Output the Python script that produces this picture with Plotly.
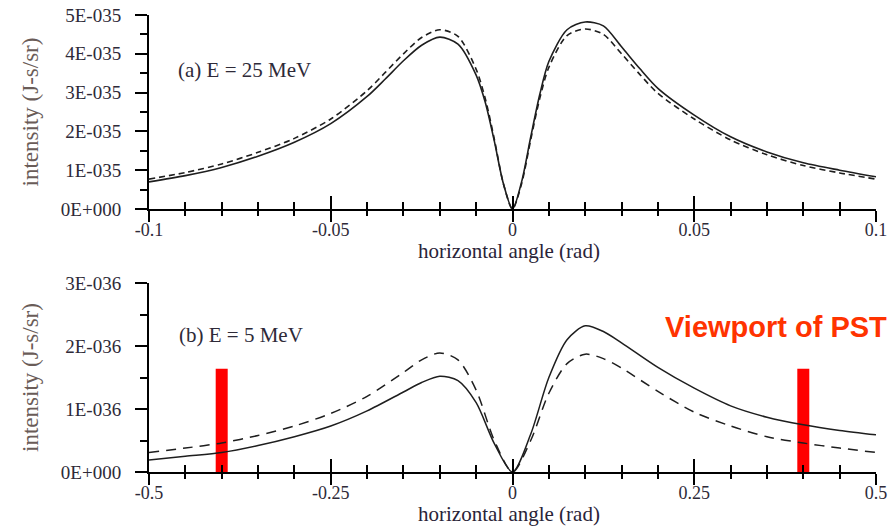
import numpy as np
import plotly.graph_objects as go

# ---- panel (a): E = 25 MeV, intensity in units of 1E-35 J-s/sr ----
SCALE_A = 1e-35
angle_a = [-0.1, -0.09, -0.08, -0.07, -0.06, -0.05, -0.04, -0.035, -0.03, -0.025,
           -0.02, -0.015, -0.01, -0.0075, -0.005, -0.0025, 0.0, 0.0025, 0.005, 0.0075,
           0.01, 0.015, 0.02, 0.025, 0.03, 0.035, 0.04, 0.05, 0.06, 0.07, 0.08, 0.09, 0.1]
solid_a = [0.70, 0.86, 1.07, 1.36, 1.72, 2.20, 2.90, 3.35, 3.82, 4.22,
           4.43, 4.25, 3.45, 2.75, 1.75, 0.65, 0.0, 0.70, 1.85, 2.95,
           3.80, 4.62, 4.82, 4.72, 4.18, 3.62, 3.11, 2.42, 1.86, 1.47, 1.19, 1.00, 0.83]
dashed_a = [0.77, 0.94, 1.16, 1.46, 1.82, 2.32, 3.05, 3.52, 4.00, 4.42,
            4.62, 4.45, 3.60, 2.85, 1.80, 0.65, 0.0, 0.65, 1.78, 2.85,
            3.65, 4.47, 4.64, 4.50, 4.00, 3.47, 2.98, 2.32, 1.78, 1.40, 1.12, 0.93, 0.77]
yticks_a = [0, 1, 2, 3, 4, 5]
yticktext_a = ["0E+000", "1E-035", "2E-035", "3E-035", "4E-035", "5E-035"]
xticks_a = [-0.1, -0.05, 0, 0.05, 0.1]
xticktext_a = ["-0.1", "-0.05", "0", "0.05", "0.1"]

# ---- panel (b): E = 5 MeV, intensity in units of 1E-36 J-s/sr ----
SCALE_B = 1e-36
angle_b = [-0.5, -0.45, -0.4, -0.35, -0.3, -0.25, -0.2, -0.15, -0.125, -0.1,
           -0.075, -0.05, -0.025, 0.0, 0.025, 0.05, 0.075, 0.1, 0.125, 0.15,
           0.2, 0.25, 0.3, 0.35, 0.4, 0.45, 0.5]
solid_b = [0.19, 0.25, 0.31, 0.42, 0.56, 0.73, 0.97, 1.27, 1.42, 1.52,
           1.45, 1.10, 0.45, 0.0, 0.60, 1.50, 2.10, 2.32, 2.23, 2.05,
           1.66, 1.33, 1.05, 0.87, 0.75, 0.66, 0.59]
dashed_b = [0.31, 0.38, 0.46, 0.58, 0.73, 0.93, 1.20, 1.58, 1.78, 1.89,
            1.78, 1.30, 0.50, 0.0, 0.50, 1.25, 1.72, 1.87, 1.80, 1.65,
            1.28, 0.95, 0.73, 0.56, 0.46, 0.38, 0.31]
yticks_b = [0, 1, 2, 3]
yticktext_b = ["0E+000", "1E-036", "2E-036", "3E-036"]
xticks_b = [-0.5, -0.25, 0, 0.25, 0.5]
xticktext_b = ["-0.5", "-0.25", "0", "0.25", "0.5"]

# PST viewport edges (red markers in panel b)
pst_angle = [-0.4, 0.4]
pst_level = [1.64, 1.64]

X_TITLE = "horizontal angle (rad)"
Y_TITLE = "intensity (J-s/sr)"

SERIF = "Liberation Serif, Times New Roman, serif"
TICK_COLOR = "#2e2a38"
TITLE_COLOR = "#6a5c58"
LINE_COLOR = "#1e1e1e"

# pixel layout of the figure
W, H = 895, 527
ML, MR, MT, MB = 149, 19, 15, 55
PW, PH = W - ML - MR, H - MT - MB

fig = go.Figure()

ya = np.array(solid_a) * SCALE_A
yda = np.array(dashed_a) * SCALE_A
yb = np.array(solid_b) * SCALE_B
ydb = np.array(dashed_b) * SCALE_B

# solid curves on the main axes, dashed curves on the overlay axes that carry the inner ticks
fig.add_trace(go.Scatter(x=angle_a, y=ya, mode="lines",
                         line=dict(color=LINE_COLOR, width=1.6, shape="spline", smoothing=0.8),
                         xaxis="x", yaxis="y"))
fig.add_trace(go.Scatter(x=angle_a, y=yda, mode="lines",
                         line=dict(color=LINE_COLOR, width=1.6, dash="6px,4px", shape="spline", smoothing=0.8),
                         xaxis="x3", yaxis="y"))
fig.add_trace(go.Scatter(x=angle_b, y=yb, mode="lines",
                         line=dict(color=LINE_COLOR, width=1.5, shape="spline", smoothing=0.8),
                         xaxis="x2", yaxis="y2"))
fig.add_trace(go.Scatter(x=angle_b, y=ydb, mode="lines",
                         line=dict(color=LINE_COLOR, width=1.5, dash="10px,7px", shape="spline", smoothing=0.8),
                         xaxis="x4", yaxis="y2"))
fig.add_trace(go.Bar(x=pst_angle, y=np.array(pst_level) * SCALE_B, width=0.0165,
                     marker=dict(color="#ff0000", line=dict(width=0)), xaxis="x2", yaxis="y2"))

ytickfont = dict(family=SERIF, size=19, color=TICK_COLOR)
xtickfont = dict(family=SERIF, size=18, color=TICK_COLOR)
xtitlefont = dict(family=SERIF, size=21, color="#2a2438")
ytitlefont = dict(family=SERIF, size=23, color=TITLE_COLOR)


def xaxis_main(rng, vals, text, dmin, anchor):
    return dict(range=rng, anchor=anchor, showgrid=False, zeroline=False,
                showline=True, linecolor="black", linewidth=2,
                tickmode="array", tickvals=vals, ticktext=text, tickfont=xtickfont,
                ticks="outside", ticklen=11, tickwidth=2, tickcolor="black",
                ticklabelstandoff=-8,
                minor=dict(dtick=dmin, ticks="outside", ticklen=5, tickwidth=2, tickcolor="black"),
                automargin=False, fixedrange=True)


def xaxis_inner(rng, vals, dmin, over, anchor):
    return dict(range=rng, overlaying=over, anchor=anchor, side="bottom",
                showgrid=False, zeroline=False, showline=False, showticklabels=False,
                tickmode="array", tickvals=vals,
                ticks="inside", ticklen=13, tickwidth=2, tickcolor="black",
                minor=dict(dtick=dmin, ticks="inside", ticklen=7, tickwidth=2, tickcolor="black"),
                automargin=False, fixedrange=True)


def yaxis_main(rng, vals, text, dmin, domain, anchor):
    return dict(range=rng, domain=domain, anchor=anchor, showgrid=False, zeroline=False,
                showline=True, linecolor="black", linewidth=2,
                tickmode="array", tickvals=vals, ticktext=text, tickfont=ytickfont,
                ticks="outside", ticklen=12, tickwidth=2, tickcolor="black",
                ticklabelstandoff=10,
                minor=dict(dtick=dmin, ticks="outside", ticklen=7, tickwidth=2, tickcolor="black"),
                title=dict(text=Y_TITLE, font=ytitlefont, standoff=16),
                automargin=False, fixedrange=True)


dom_a = [(H - MB - 209) / PH, 1.0]
dom_b = [0.0, (H - MB - 283) / PH]

fig.update_layout(
    width=W, height=H,
    margin=dict(l=ML, r=MR, t=MT, b=MB),
    paper_bgcolor="white", plot_bgcolor="white",
    showlegend=False,
    xaxis=xaxis_main([-0.1, 0.1], xticks_a, xticktext_a, 0.01, "y"),
    yaxis=yaxis_main([0, 5 * SCALE_A], [v * SCALE_A for v in yticks_a], yticktext_a,
                     0.5 * SCALE_A, dom_a, "x"),
    xaxis2=xaxis_main([-0.5, 0.5], xticks_b, xticktext_b, 0.05, "y2"),
    yaxis2=yaxis_main([0, 3 * SCALE_B], [v * SCALE_B for v in yticks_b], yticktext_b,
                      0.5 * SCALE_B, dom_b, "x2"),
    xaxis3=xaxis_inner([-0.1, 0.1], xticks_a, 0.01, "x", "y"),
    xaxis4=xaxis_inner([-0.5, 0.5], xticks_b, 0.05, "x2", "y2"),
)

# x-axis titles placed just below the tick labels
for ypix in (251, 514):
    fig.add_annotation(x=(509 - ML) / PW, y=(H - MB - ypix) / PH, xref="paper", yref="paper",
                       text=X_TITLE, showarrow=False, xanchor="center", yanchor="middle",
                       font=xtitlefont)

annot_font = dict(family=SERIF, size=21, color="#2e2a38")
fig.add_annotation(x=-0.0925, y=3.58 * SCALE_A, xref="x", yref="y", text="(a) E = 25 MeV",
                   showarrow=False, xanchor="left", yanchor="middle", font=annot_font)
fig.add_annotation(x=-0.461, y=2.17 * SCALE_B, xref="x2", yref="y2", text="(b) E = 5 MeV",
                   showarrow=False, xanchor="left", yanchor="middle", font=annot_font)
fig.add_annotation(x=(663 - ML) / PW, y=(H - MB - 327) / PH, xref="paper", yref="paper",
                   text="<b>Viewport of PST</b>", showarrow=False, xanchor="left", yanchor="middle",
                   font=dict(family="Liberation Sans, Arial, sans-serif", size=29, color="#ff3300"))

fig.write_html("out.html")
